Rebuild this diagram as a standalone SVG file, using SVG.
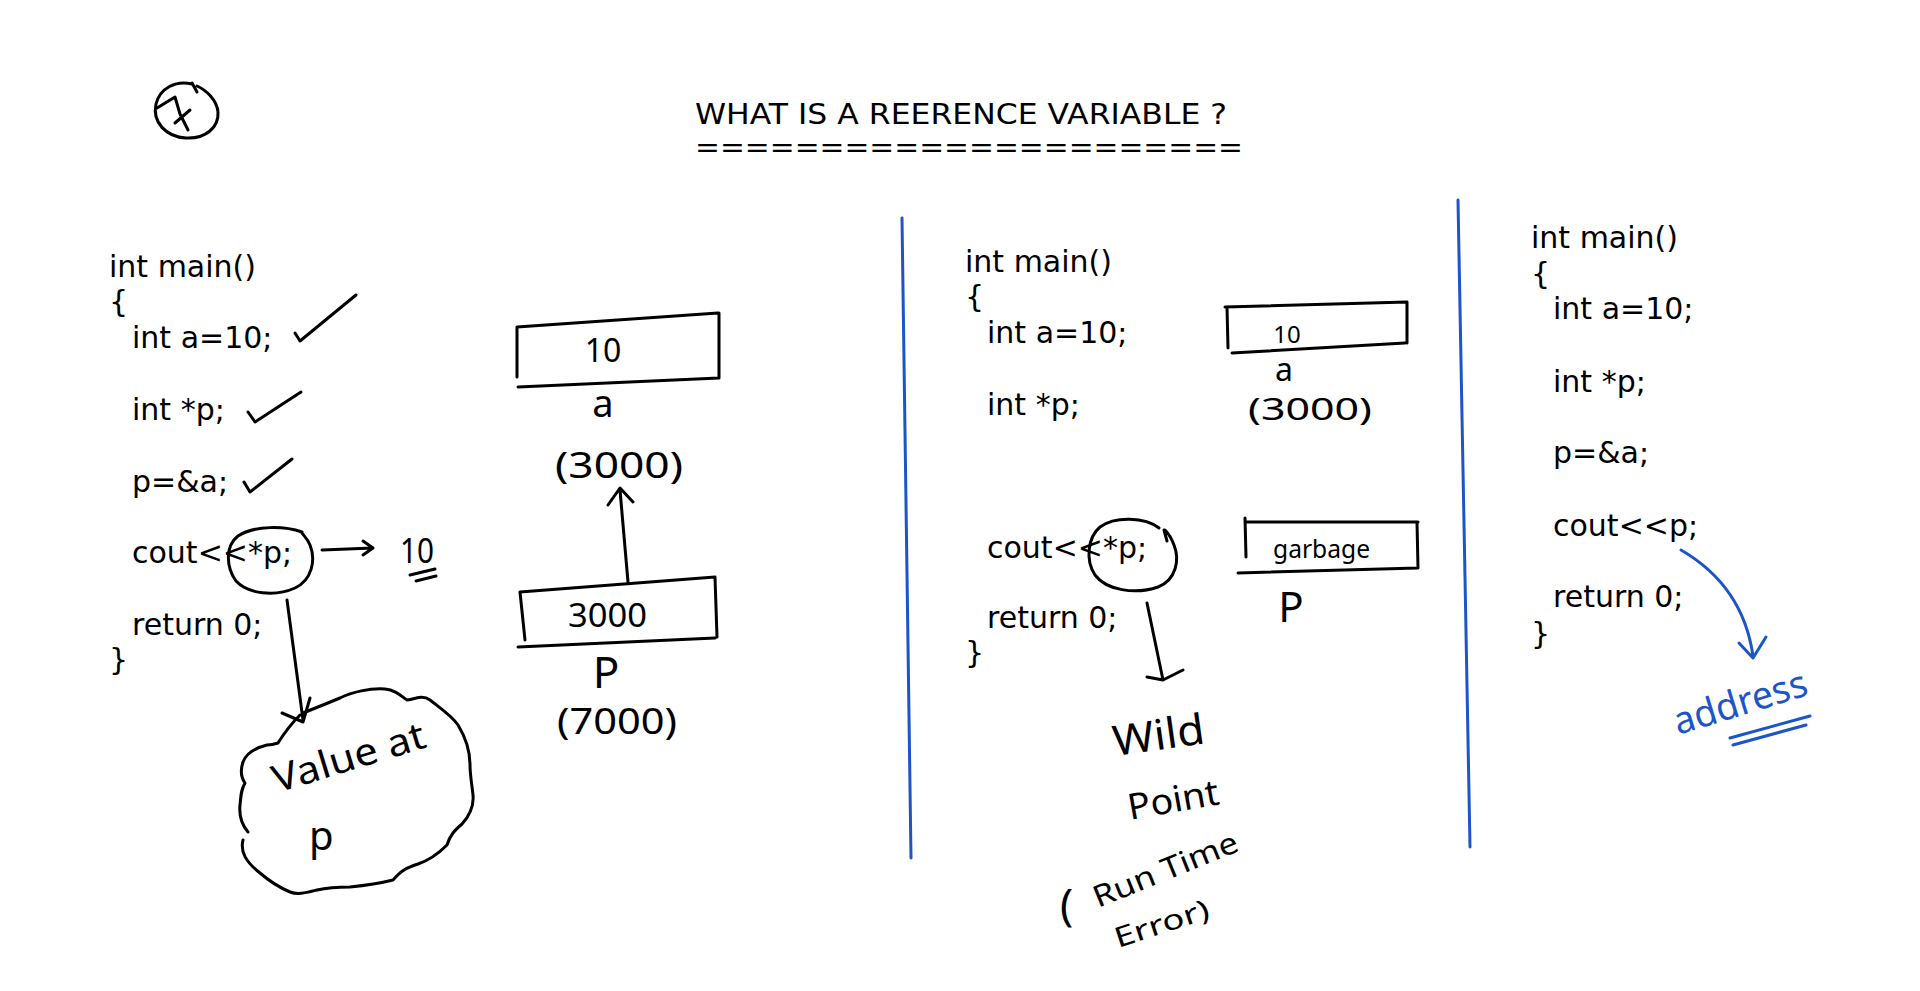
<svg xmlns="http://www.w3.org/2000/svg" width="1920" height="991" viewBox="0 0 1920 991">
<defs>
<style>
.code{font-family:"DejaVu Sans","Liberation Sans",sans-serif;font-size:30px;fill:#000}
.title{font-family:"DejaVu Sans","Liberation Sans",sans-serif;font-size:29px;fill:#000}
.hand{font-family:"Noto Sans","DejaVu Sans",sans-serif;fill:#000}
.handb{font-family:"Noto Sans","DejaVu Sans",sans-serif;fill:#1c55c9}
.ink{fill:none;stroke:#000;stroke-width:3;stroke-linecap:round;stroke-linejoin:round}
.blue{fill:none;stroke:#1c55c9;stroke-width:3;stroke-linecap:round;stroke-linejoin:round}
</style>
</defs>
<rect width="1920" height="991" fill="#fff"/>

<g id="page-number">
<path class="ink" d="M192,84 C176,80 160,88 156,104 C152,122 166,137 186,138 C206,139 219,127 218,112 C217,100 206,90 197,86 M192,83 L197,92"/>
<path class="ink" d="M157,108 L175,97 L180,114 L188,130 M175,123 L190,110"/>
</g>

<g id="title">
<text class="title" x="695" y="124" textLength="532" lengthAdjust="spacingAndGlyphs">WHAT IS A REERENCE VARIABLE ?</text>
<text class="title" x="695" y="157" textLength="548" lengthAdjust="spacingAndGlyphs">======================</text>
</g>

<g id="dividers">
<line class="blue" x1="902" y1="218" x2="911" y2="858"/>
<line class="blue" x1="1458" y1="200" x2="1470" y2="847"/>
</g>

<g id="code-left">
<text class="code" x="109" y="277">int main()</text>
<text class="code" x="109" y="312">{</text>
<text class="code" x="132" y="348">int a=10;</text>
<text class="code" x="132" y="420">int *p;</text>
<text class="code" x="132" y="492">p=&amp;a;</text>
<text class="code" x="132" y="563">cout&lt;&lt;*p;</text>
<text class="code" x="132" y="635">return 0;</text>
<text class="code" x="109" y="670">}</text>
<path class="ink" d="M295,333 L300,341 L356,295"/>
<path class="ink" d="M248,412 L255,422 L301,392"/>
<path class="ink" d="M244,482 L250,492 L292,459"/>
<path class="ink" d="M302,532 C285,526 255,525 238,536 C225,546 226,567 236,581 C248,594 275,597 295,588 C312,580 316,560 310,545 C307,538 304,536 302,533"/>
<text class="hand" x="400" y="563" font-size="34" textLength="34" lengthAdjust="spacingAndGlyphs">10</text>
<path class="ink" d="M410,575 L435,569 M416,581 L436,576"/>
</g>

<g id="cloud-value-at-p">
<path class="ink" d="M243,840 C240,852 246,862 260,873 C268,880 276,886 290,892 C298,895 305,893 317,890 C330,887 340,887 350,887 C370,885 385,882 393,880 C400,872 405,868 418,864 C430,860 440,852 447,845 C450,835 455,830 462,824 C470,815 474,805 473,795 C472,785 470,775 470,765 C470,750 466,738 458,725 C452,716 440,708 430,700 C422,694 412,700 407,700 C400,695 395,690 385,689 C370,688 352,692 340,698 C328,703 318,707 303,713"/>
<path class="ink" d="M248,832 C242,825 239,815 240,805 C241,795 241,790 245,783 C240,776 241,768 243,762 C246,754 255,748 267,745 C272,745 275,744 278,743 C283,735 288,727 300,715"/>
<text class="hand" x="277" y="793" font-size="38" textLength="158" lengthAdjust="spacingAndGlyphs" transform="rotate(-17 277 793)">Value at</text>
<text class="hand" x="309" y="850" font-size="40">p</text>
</g>

<g id="memory-left">
<path class="ink" d="M517,327 L718,313 M517,327 L517,377 M719,313 L719,378 M518,387 L719,378"/>
<text class="hand" x="603" y="362" font-size="32" text-anchor="middle">10</text>
<text class="hand" x="603" y="417" font-size="38" text-anchor="middle">a</text>
<text class="hand" x="555" y="478" font-size="36" textLength="128" lengthAdjust="spacingAndGlyphs">(3000)</text>
<path class="ink" d="M520,592 L715,577 M520,592 L525,640 M715,577 L717,637 M518,647 L715,638"/>
<text class="hand" x="568" y="627" font-size="32" textLength="79" lengthAdjust="spacingAndGlyphs">3000</text>
<text class="hand" x="606" y="688" font-size="44" text-anchor="middle">P</text>
<text class="hand" x="557" y="734" font-size="36" textLength="120" lengthAdjust="spacingAndGlyphs">(7000)</text>
</g>

<g id="code-middle">
<text class="code" x="965" y="272">int main()</text>
<text class="code" x="965" y="307">{</text>
<text class="code" x="987" y="343">int a=10;</text>
<text class="code" x="987" y="415">int *p;</text>
<text class="code" x="987" y="558">cout&lt;&lt;*p;</text>
<text class="code" x="987" y="628">return 0;</text>
<text class="code" x="965" y="663">}</text>
<path class="ink" d="M1159,528 C1145,517 1115,516 1100,527 C1088,537 1085,560 1095,575 C1106,590 1135,595 1158,587 C1176,580 1180,560 1174,545 C1171,537 1167,532 1165,530 M1164,530 L1167,541"/>
</g>

<g id="memory-middle">
<path class="ink" d="M1225,307 L1407,302 M1227,307 L1228,348 M1407,302 L1407,343 M1232,353 L1405,343"/>
<text class="hand" x="1287" y="343" font-size="24" text-anchor="middle">10</text>
<text class="hand" x="1284" y="381" font-size="32" text-anchor="middle">a</text>
<text class="hand" x="1248" y="420" font-size="30" textLength="124" lengthAdjust="spacingAndGlyphs">(3000)</text>
<path class="ink" d="M1245,522 L1418,522 M1245,518 L1246,557 M1417,522 L1418,568 M1238,573 L1418,568"/>
<text class="hand" x="1273" y="558" font-size="26" textLength="97" lengthAdjust="spacingAndGlyphs">garbage</text>
<text class="hand" x="1291" y="622" font-size="42" text-anchor="middle">P</text>
</g>

<g id="wild-pointer-note">
<text class="hand" x="1115" y="756" font-size="42" textLength="92" lengthAdjust="spacingAndGlyphs" transform="rotate(-8 1115 756)">Wild</text>
<text class="hand" x="1130" y="820" font-size="36" textLength="92" lengthAdjust="spacingAndGlyphs" transform="rotate(-10 1130 820)">Point</text>
<text class="hand" x="1060" y="920" font-size="44">(</text>
<text class="hand" x="1098" y="908" font-size="30" textLength="154" lengthAdjust="spacingAndGlyphs" transform="rotate(-22 1098 908)">Run Time</text>
<text class="hand" x="1118" y="948" font-size="28" textLength="98" lengthAdjust="spacingAndGlyphs" transform="rotate(-18 1118 948)">Error)</text>
</g>

<g id="code-right">
<text class="code" x="1531" y="248">int main()</text>
<text class="code" x="1531" y="284">{</text>
<text class="code" x="1553" y="319">int a=10;</text>
<text class="code" x="1553" y="392">int *p;</text>
<text class="code" x="1553" y="463">p=&amp;a;</text>
<text class="code" x="1553" y="536">cout&lt;&lt;p;</text>
<text class="code" x="1553" y="607">return 0;</text>
<text class="code" x="1531" y="644">}</text>
</g>

<g id="address-note">
<text class="handb" x="1678" y="735" font-size="38" textLength="138" lengthAdjust="spacingAndGlyphs" transform="rotate(-17 1678 735)">address</text>
<path class="blue" d="M1730,738 L1810,716 M1733,745 L1806,725"/>
</g>

<g id="connectors">
<path class="ink" d="M322,550 L373,548 M363,541 L373,548 L363,555"/>
<path class="ink" d="M287,600 L303,720 M282,713 L303,722 L310,698"/>
<path class="ink" d="M628,582 L620,490 M608,505 L620,488 L633,502"/>
<path class="ink" d="M1147,603 L1163,680 M1147,677 L1163,680 L1183,670"/>
<path class="blue" d="M1681,550 C1712,568 1745,600 1753,656 M1739,643 L1753,658 L1766,637"/>
</g>
</svg>
